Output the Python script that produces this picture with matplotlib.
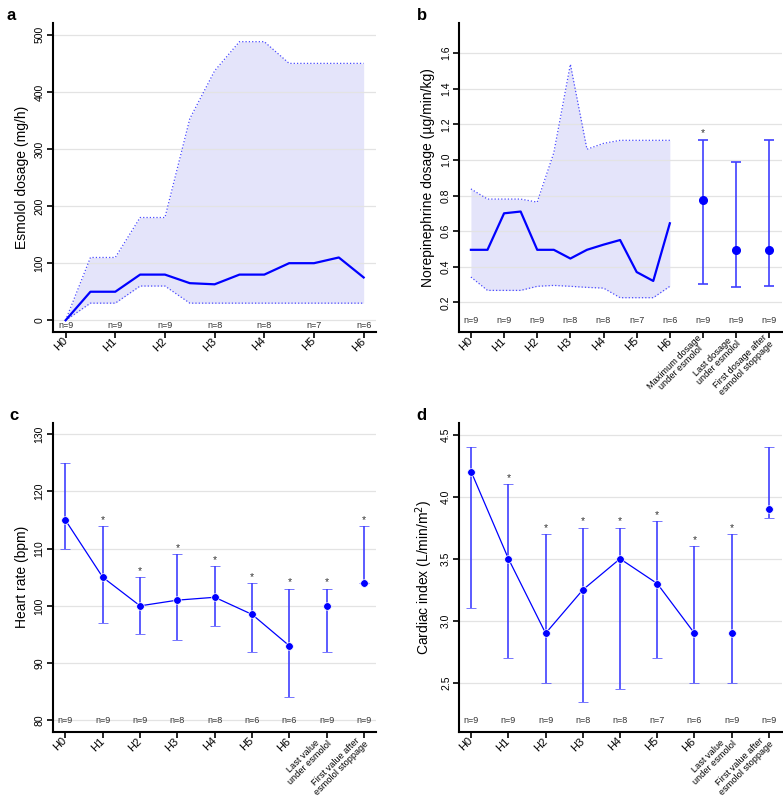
import numpy as np
import matplotlib.pyplot as plt

plt.rcParams['font.family'] = ['Liberation Sans', 'DejaVu Sans']

# panel a - esmolol dosage, every half hour H0..H6
esm_med = [0, 50, 50, 80, 80, 65, 63, 80, 80, 100, 100, 110, 75]
esm_hi = [0, 110, 110, 180, 180, 353, 437, 488, 488, 450, 450, 450, 450]
esm_lo = [0, 30, 30, 60, 60, 30, 30, 30, 30, 30, 30, 30, 30]
esm_n = [9, 9, 9, 8, 8, 7, 6]

# panel b - norepinephrine dosage
ne_med = [0.495, 0.495, 0.70, 0.71, 0.495, 0.495, 0.446, 0.495, 0.524, 0.55, 0.37, 0.32, 0.644]
ne_hi = [0.837, 0.78, 0.78, 0.78, 0.763, 1.04, 1.537, 1.06, 1.093, 1.11, 1.11, 1.11, 1.11]
ne_lo = [0.342, 0.267, 0.267, 0.267, 0.29, 0.295, 0.29, 0.284, 0.28, 0.226, 0.226, 0.226, 0.29]
ne_extra_med = [0.777, 0.495, 0.495]
ne_extra_lo = [0.302, 0.288, 0.293]
ne_extra_hi = [1.11, 0.99, 1.11]
ne_extra_star = [True, False, False]
ne_n = [9, 9, 9, 8, 8, 7, 6, 9, 9, 9]
ne_labels = ['H0', 'H1', 'H2', 'H3', 'H4', 'H5', 'H6',
             'Maximum dosage\nunder esmolol', 'Last dosage\nunder esmolol',
             'First dosage after\nesmolol stoppage']

# panel c - heart rate
cat_labels = ['H0', 'H1', 'H2', 'H3', 'H4', 'H5', 'H6',
              'Last value\nunder esmolol', 'First value after\nesmolol stoppage']
hr_med = [115, 105, 100, 101, 101.5, 98.5, 93, 100, 104]
hr_lo = [110, 97, 95, 94, 96.5, 92, 84, 92, 104]
hr_hi = [125, 114, 105, 109, 107, 104, 103, 103, 114]
hr_star = [False, True, True, True, True, True, True, True, True]
hr_n = [9, 9, 9, 8, 8, 6, 6, 9, 9]

# panel d - cardiac index
ci_med = [4.2, 3.5, 2.9, 3.25, 3.5, 3.3, 2.9, 2.9, 3.9]
ci_lo = [3.1, 2.7, 2.5, 2.35, 2.45, 2.7, 2.5, 2.5, 3.83]
ci_hi = [4.4, 4.1, 3.7, 3.75, 3.75, 3.8, 3.6, 3.7, 4.4]
ci_star = [False, True, True, True, True, True, True, True, False]
ci_n = [9, 9, 9, 8, 8, 7, 6, 9, 9]

blue = '#0000ff'
ebc = '#3f3fff'
fillc = '#e4e4fa'
txtc = '#333333'

fig = plt.figure(figsize=(7.83, 7.96), dpi=100)
axa = fig.add_axes([0.0673, 0.5833, 0.413, 0.388])
axb = fig.add_axes([0.5866, 0.5833, 0.412, 0.388])
axc = fig.add_axes([0.0673, 0.0808, 0.413, 0.388])
axd = fig.add_axes([0.5866, 0.0808, 0.412, 0.388])


def style(ax):
    for s in ['top', 'right']:
        ax.spines[s].set_visible(False)
    for s in ['left', 'bottom']:
        ax.spines[s].set_linewidth(1.5)
    ax.yaxis.grid(True, color='#e3e3e3', lw=0.9)
    ax.set_axisbelow(True)
    ax.tick_params(axis='both', length=4, width=1.2, color='black')
    ax.tick_params(axis='y', labelsize=7.5, pad=2)
    ax.tick_params(axis='x', pad=1.5)
    for t in ax.get_yticklabels():
        t.set_rotation(90)
        t.set_va('center')


def xlabels(ax, pos, labels):
    ax.set_xticks(pos)
    ax.set_xticklabels(labels, rotation=45, ha='right', va='center', rotation_mode='anchor',
                       multialignment='center', fontsize=8, linespacing=1.0)
    for t in ax.get_xticklabels():
        if '\n' in t.get_text():
            t.set_fontsize(6.6)


# ---- a
hx = np.arange(len(esm_med)) * 0.5
axa.fill_between(hx, esm_lo, esm_hi, color=fillc, lw=0, zorder=0.5)
axa.plot(hx, esm_hi, ':', color='#4b4bff', lw=0.9)
axa.plot(hx, esm_lo, ':', color='#4b4bff', lw=0.9)
axa.plot(hx, esm_med, '-', color=blue, lw=1.6)
axa.set_xlim(-0.26, 6.25)
axa.set_ylim(-20, 521)
axa.set_yticks([0, 100, 200, 300, 400, 500])
axa.set_ylabel('Esmolol dosage (mg/h)', fontsize=10, labelpad=4)
style(axa)
xlabels(axa, range(7), ['H0', 'H1', 'H2', 'H3', 'H4', 'H5', 'H6'])
for i, n in enumerate(esm_n):
    axa.text(i, -9, 'n=%d' % n, ha='center', va='center', fontsize=6.5, color=txtc)

# ---- b
axb.fill_between(hx, ne_lo, ne_hi, color=fillc, lw=0, zorder=0.5)
axb.plot(hx, ne_hi, ':', color='#4b4bff', lw=0.9)
axb.plot(hx, ne_lo, ':', color='#4b4bff', lw=0.9)
axb.plot(hx, ne_med, '-', color=blue, lw=1.6)
bx = np.arange(7, 7 + len(ne_extra_med))
yerr = [np.array(ne_extra_med) - np.array(ne_extra_lo), np.array(ne_extra_hi) - np.array(ne_extra_med)]
axb.errorbar(bx, ne_extra_med, yerr=yerr, fmt='o', color=blue, ecolor=ebc, elinewidth=1.2,
             capsize=3.5, capthick=1.2, ms=5.5)
for x, h, s in zip(bx, ne_extra_hi, ne_extra_star):
    if s:
        axb.text(x, h + 0.01, '*', ha='center', va='bottom', fontsize=7.5, color=txtc)
axb.set_xlim(-0.35, 9.38)
axb.set_ylim(0.035, 1.77)
axb.set_yticks([0.2, 0.4, 0.6, 0.8, 1.0, 1.2, 1.4, 1.6])
axb.set_yticklabels(['0.2', '0.4', '0.6', '0.8', '1.0', '1.2', '1.4', '1.6'])
axb.set_ylabel('Norepinephrine dosage (µg/min/kg)', fontsize=10, labelpad=4)
style(axb)
xlabels(axb, range(10), ne_labels)
for i, n in enumerate(ne_n):
    axb.text(i, 0.097, 'n=%d' % n, ha='center', va='center', fontsize=6.5, color=txtc)


# ---- c and d
def points(ax, med, lo, hi, stars, off):
    x = np.arange(len(med))
    ax.plot(x[:7], med[:7], '-', color=blue, lw=0.9, zorder=2)
    yerr = [np.array(med) - np.array(lo), np.array(hi) - np.array(med)]
    ax.errorbar(x, med, yerr=yerr, fmt='o', color=blue, ecolor=ebc, elinewidth=1.2,
                capsize=3.5, capthick=1.2, ms=5.5, mec='white', mew=0.5, zorder=3)
    for xi, h, s in zip(x, hi, stars):
        if s:
            ax.text(xi, h + off, '*', ha='center', va='bottom', fontsize=7.5, color=txtc)


points(axc, hr_med, hr_lo, hr_hi, hr_star, 0.2)
axc.set_xlim(-0.34, 8.32)
axc.set_ylim(78, 132)
axc.set_yticks([80, 90, 100, 110, 120, 130])
axc.set_ylabel('Heart rate (bpm)', fontsize=10, labelpad=4)
style(axc)
xlabels(axc, range(9), cat_labels)
for i, n in enumerate(hr_n):
    axc.text(i, 80, 'n=%d' % n, ha='center', va='center', fontsize=6.5, color=txtc)

points(axd, ci_med, ci_lo, ci_hi, ci_star, 0.01)
axd.set_xlim(-0.32, 8.35)
axd.set_ylim(2.108, 4.594)
axd.set_yticks([2.5, 3.0, 3.5, 4.0, 4.5])
axd.set_yticklabels(['2.5', '3.0', '3.5', '4.0', '4.5'])
axd.set_ylabel('Cardiac index (L/min/m$^2$)', fontsize=10, labelpad=4)
style(axd)
xlabels(axd, range(9), cat_labels)
for i, n in enumerate(ci_n):
    axd.text(i, 2.194, 'n=%d' % n, ha='center', va='center', fontsize=6.5, color=txtc)

# panel letters
fig.text(0.008, 0.99, 'a', fontsize=12, fontweight='bold', va='top')
fig.text(0.532, 0.99, 'b', fontsize=12, fontweight='bold', va='top')
fig.text(0.012, 0.488, 'c', fontsize=12, fontweight='bold', va='top')
fig.text(0.532, 0.488, 'd', fontsize=12, fontweight='bold', va='top')

fig.savefig('out.png', dpi=100)
